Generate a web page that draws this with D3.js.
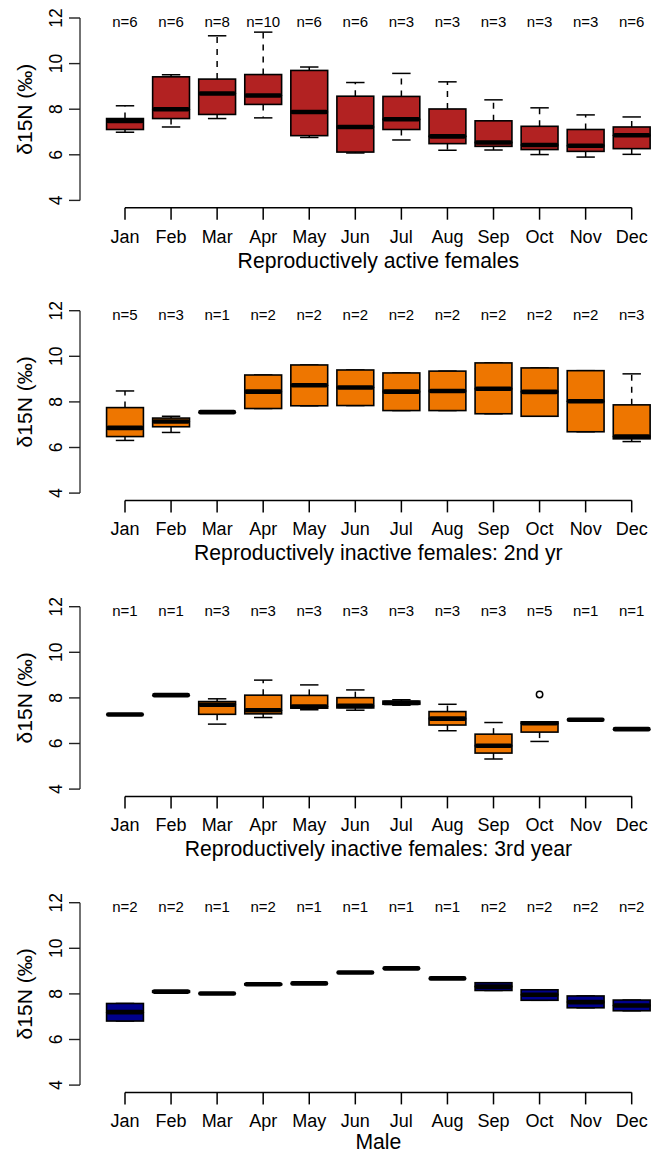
<!DOCTYPE html>
<html>
<head>
<meta charset="utf-8">
<script src="https://cdn.jsdelivr.net/npm/d3@7"></script>
<style>
  html, body { margin: 0; padding: 0; background: #fff; }
  svg { display: block; font-family: "Liberation Sans", Arial, Helvetica, sans-serif; }
</style>
</head>
<body>
<svg id="chart" width="661" height="1153"></svg>
<script>
// ---------- data ----------
const months = ["Jan","Feb","Mar","Apr","May","Jun","Jul","Aug","Sep","Oct","Nov","Dec"];
const yTicks = [4, 6, 8, 10, 12];

const titles = [
  "Reproductively active females",
  "Reproductively inactive females: 2nd yr",
  "Reproductively inactive females: 3rd year",
  "Male"
];
const fills = ["#B22222", "#EE7600", "#EE7600", "#00008B"];

// Panel 1: reproductively active females
const activeN    = [6, 6, 8, 10, 6, 6, 3, 3, 3, 3, 3, 6];
const activeLow  = [6.99, 7.22, 7.59, 7.62, 6.76, 6.08, 6.65, 6.20, 6.21, 6.01, 5.90, 6.02];
const activeQ1   = [7.11, 7.59, 7.77, 8.21, 6.84, 6.12, 7.11, 6.49, 6.37, 6.23, 6.15, 6.27];
const activeMed  = [7.48, 8.00, 8.69, 8.60, 7.88, 7.22, 7.56, 6.81, 6.54, 6.43, 6.40, 6.86];
const activeQ3   = [7.59, 9.42, 9.32, 9.52, 9.70, 8.57, 8.56, 8.01, 7.49, 7.25, 7.11, 7.22];
const activeHigh = [8.15, 9.51, 11.22, 11.38, 9.85, 9.17, 9.57, 9.20, 8.41, 8.06, 7.75, 7.66];
const activeOut  = [[], [], [], [], [], [], [], [], [], [], [], []];

// Panel 2: inactive females, 2nd yr
const inact2N    = [5, 3, 1, 2, 2, 2, 2, 2, 2, 2, 2, 3];
const inact2Low  = [6.31, 6.66, 7.55, 7.71, 7.83, 7.84, 7.62, 7.62, 7.48, 7.37, 6.69, 6.26];
const inact2Q1   = [6.48, 6.91, 7.55, 7.71, 7.83, 7.84, 7.62, 7.62, 7.48, 7.37, 6.69, 6.38];
const inact2Med  = [6.86, 7.14, 7.55, 8.45, 8.73, 8.63, 8.45, 8.48, 8.58, 8.44, 8.03, 6.48];
const inact2Q3   = [7.75, 7.29, 7.55, 9.18, 9.62, 9.40, 9.27, 9.35, 9.71, 9.49, 9.37, 7.87];
const inact2High = [8.48, 7.37, 7.55, 9.18, 9.62, 9.40, 9.27, 9.35, 9.71, 9.49, 9.37, 9.23];
const inact2Out  = [[], [], [], [], [], [], [], [], [], [], [], []];

// Panel 3: inactive females, 3rd year
const inact3N    = [1, 1, 3, 3, 3, 3, 3, 3, 3, 5, 1, 1];
const inact3Low  = [7.27, 8.12, 6.85, 7.14, 7.48, 7.46, 7.68, 6.56, 5.32, 6.09, 7.04, 6.63];
const inact3Q1   = [7.27, 8.12, 7.28, 7.30, 7.55, 7.56, 7.72, 6.81, 5.58, 6.50, 7.04, 6.63];
const inact3Med  = [7.27, 8.12, 7.70, 7.46, 7.62, 7.65, 7.78, 7.09, 5.90, 6.89, 7.04, 6.63];
const inact3Q3   = [7.27, 8.12, 7.84, 8.12, 8.11, 8.01, 7.86, 7.40, 6.41, 6.95, 7.04, 6.63];
const inact3High = [7.27, 8.12, 7.96, 8.78, 8.57, 8.35, 7.92, 7.72, 6.92, 6.95, 7.04, 6.63];
const inact3Out  = [[], [], [], [], [], [], [], [], [], [8.15], [], []];

// Panel 4: males
const maleN    = [2, 2, 1, 2, 1, 1, 1, 1, 2, 2, 2, 2];
const maleLow  = [6.81, 8.07, 8.02, 8.40, 8.46, 8.94, 9.12, 8.68, 8.15, 7.72, 7.39, 7.26];
const maleQ1   = [6.81, 8.07, 8.02, 8.40, 8.46, 8.94, 9.12, 8.68, 8.15, 7.72, 7.39, 7.26];
const maleMed  = [7.20, 8.10, 8.02, 8.42, 8.46, 8.94, 9.12, 8.68, 8.32, 7.96, 7.64, 7.49];
const maleQ3   = [7.58, 8.13, 8.02, 8.44, 8.46, 8.94, 9.12, 8.68, 8.49, 8.18, 7.91, 7.73];
const maleHigh = [7.58, 8.13, 8.02, 8.44, 8.46, 8.94, 9.12, 8.68, 8.49, 8.18, 7.91, 7.73];
const maleOut  = [[], [], [], [], [], [], [], [], [], [], [], []];

const panelsData = [
  { n: activeN, low: activeLow, q1: activeQ1, med: activeMed, q3: activeQ3, high: activeHigh, out: activeOut },
  { n: inact2N, low: inact2Low, q1: inact2Q1, med: inact2Med, q3: inact2Q3, high: inact2High, out: inact2Out },
  { n: inact3N, low: inact3Low, q1: inact3Q1, med: inact3Med, q3: inact3Q3, high: inact3High, out: inact3Out },
  { n: maleN,   low: maleLow,   q1: maleQ1,   med: maleMed,   q3: maleQ3,   high: maleHigh,   out: maleOut }
];

// ---------- layout ----------
const panelTop = [18, 310.7, 606.7, 902.7];  // y pixel of value 12
const plotH = 182.4;                          // 12 -> 4
const yAxisX = 80;
const svg = d3.select("#chart");

const x = d3.scalePoint().domain(months).range([125, 631.7]);
const boxW = x.step() * 0.8;
const capW = boxW * 0.5;
const medW = 4.6;

panelsData.forEach((p, pi) => {
  const top = panelTop[pi];
  const y = d3.scaleLinear().domain([4, 12]).range([top + plotH, top]);
  const g = svg.append("g");
  const axisY = top + plotH + 7.3;

  // y axis
  g.append("line").attr("x1", yAxisX).attr("x2", yAxisX)
    .attr("y1", y(12)).attr("y2", y(4))
    .attr("stroke", "#444").attr("stroke-width", 1.5);
  yTicks.forEach(t => {
    g.append("line").attr("x1", yAxisX - 11).attr("x2", yAxisX)
      .attr("y1", y(t)).attr("y2", y(t))
      .attr("stroke", "#222").attr("stroke-width", 1.4);
    g.append("text")
      .attr("transform", `translate(62,${y(t)}) rotate(-90)`)
      .attr("text-anchor", "middle")
      .attr("font-size", 17.5)
      .attr("fill", "#000")
      .text(t);
  });
  g.append("text")
    .attr("transform", `translate(32,${(y(12) + y(4)) / 2}) rotate(-90)`)
    .attr("text-anchor", "middle")
    .attr("font-size", 21)
    .text("δ15N (‰)");

  // x axis
  g.append("line").attr("x1", x(months[0])).attr("x2", x(months[months.length - 1]))
    .attr("y1", axisY).attr("y2", axisY)
    .attr("stroke", "#000").attr("stroke-width", 1.5);
  months.forEach(m => {
    g.append("line").attr("x1", x(m)).attr("x2", x(m))
      .attr("y1", axisY).attr("y2", axisY + 12)
      .attr("stroke", "#000").attr("stroke-width", 1.5);
    g.append("text").attr("x", x(m)).attr("y", axisY + 35)
      .attr("text-anchor", "middle").attr("font-size", 18)
      .text(m);
  });
  g.append("text")
    .attr("x", (x(months[0]) + x(months[months.length - 1])) / 2)
    .attr("y", Math.min(axisY + 60, 1148.5))
    .attr("text-anchor", "middle").attr("font-size", 21.2)
    .text(titles[pi]);

  // boxes
  months.forEach((m, i) => {
    const cx = x(m);
    const lo = p.low[i], q1 = p.q1[i], md = p.med[i], q3 = p.q3[i], hi = p.high[i];
    const bg = g.append("g");
    // whiskers (dashed)
    if (hi > q3) {
      bg.append("line").attr("x1", cx).attr("x2", cx).attr("y1", y(q3)).attr("y2", y(hi))
        .attr("stroke", "#000").attr("stroke-width", 1.5).attr("stroke-dasharray", "6,6");
    }
    if (lo < q1) {
      bg.append("line").attr("x1", cx).attr("x2", cx).attr("y1", y(q1)).attr("y2", y(lo))
        .attr("stroke", "#000").attr("stroke-width", 1.5).attr("stroke-dasharray", "6,6");
    }
    // staples
    [lo, hi].forEach(v => {
      bg.append("line").attr("x1", cx - capW / 2).attr("x2", cx + capW / 2)
        .attr("y1", y(v)).attr("y2", y(v))
        .attr("stroke", "#000").attr("stroke-width", 1.5);
    });
    // box
    bg.append("rect")
      .attr("x", cx - boxW / 2).attr("width", boxW)
      .attr("y", y(q3)).attr("height", Math.max(0, y(q1) - y(q3)))
      .attr("fill", fills[pi]).attr("stroke", "#000").attr("stroke-width", 1.6);
    // median
    bg.append("line").attr("x1", cx - boxW / 2 + medW / 2 - 0.6).attr("x2", cx + boxW / 2 - medW / 2 + 0.6)
      .attr("y1", y(md)).attr("y2", y(md))
      .attr("stroke", "#000").attr("stroke-width", medW).attr("stroke-linecap", "round");
    // outliers
    p.out[i].forEach(v => {
      bg.append("circle").attr("cx", cx).attr("cy", y(v)).attr("r", 3.2)
        .attr("fill", "none").attr("stroke", "#000").attr("stroke-width", 1.5);
    });
    // n labels
    g.append("text").attr("x", cx).attr("y", y(12) + 9)
      .attr("text-anchor", "middle").attr("font-size", 15)
      .text("n=" + p.n[i]);
  });
});
</script>
</body>
</html>
